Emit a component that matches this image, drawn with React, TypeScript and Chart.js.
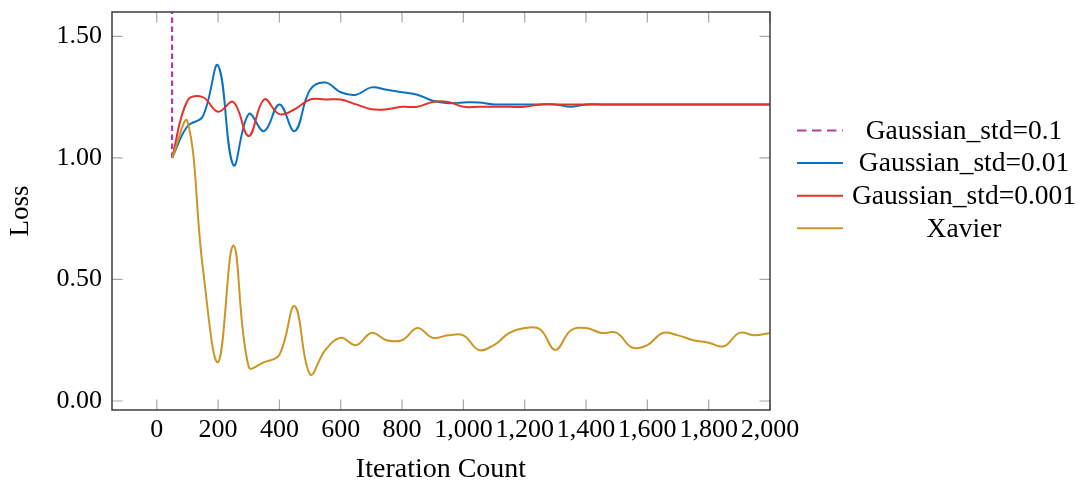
import React, { useEffect, useRef } from "react";
import { Chart, registerables } from "chart.js";

Chart.register(...registerables);

const iterations = [
  50, 100, 150, 200, 250, 300, 350, 400, 450, 500,
  550, 600, 650, 700, 750, 800, 850, 900, 950, 1000,
  1050, 1100, 1150, 1200, 1250, 1300, 1350, 1400, 1450, 1500,
  1550, 1600, 1650, 1700, 1750, 1800, 1850, 1900, 1950, 2000,
];

const std01Iter = [50, 50];
const std01Loss = [1.0, 12.5];

const std001Loss = [
  1.0, 1.13, 1.17, 1.38, 0.97, 1.18, 1.11, 1.22, 1.11, 1.28,
  1.31, 1.27, 1.26, 1.29, 1.28, 1.27, 1.26, 1.235, 1.225, 1.228,
  1.228, 1.22, 1.22, 1.22, 1.22, 1.22, 1.21, 1.22, 1.22, 1.22,
  1.22, 1.22, 1.22, 1.22, 1.22, 1.22, 1.22, 1.22, 1.22, 1.22,
];

const std0001Loss = [
  1.0, 1.235, 1.25, 1.19, 1.23, 1.09, 1.24, 1.18, 1.2, 1.24,
  1.24, 1.24, 1.22, 1.2, 1.2, 1.21, 1.21, 1.23, 1.23, 1.21,
  1.21, 1.21, 1.21, 1.21, 1.22, 1.22, 1.22, 1.22, 1.22, 1.22,
  1.22, 1.22, 1.22, 1.22, 1.22, 1.22, 1.22, 1.22, 1.22, 1.22,
];

const xavierLoss = [
  1.0, 1.15, 0.55, 0.16, 0.64, 0.14, 0.16, 0.19, 0.39, 0.11,
  0.21, 0.26, 0.23, 0.28, 0.25, 0.25, 0.3, 0.26, 0.27, 0.27,
  0.21, 0.23, 0.28, 0.3, 0.295, 0.21, 0.29, 0.3, 0.28, 0.28,
  0.22, 0.23, 0.28, 0.27, 0.25, 0.24, 0.225, 0.28, 0.27, 0.28,
];

const seriesLabels = [
  "Gaussian_std=0.1",
  "Gaussian_std=0.01",
  "Gaussian_std=0.001",
  "Xavier",
];

const xTicks = [0, 200, 400, 600, 800, 1000, 1200, 1400, 1600, 1800, 2000];
const yTicks = [0, 0.5, 1.0, 1.5];

const FONT = "'Liberation Serif', 'Times New Roman', serif";

const pts = (xs: number[], ys: number[]) => xs.map((x, i) => ({ x, y: ys[i] }));

const framePlugin = {
  id: "frame",
  afterDatasetsDraw(chart: any) {
    const { ctx, chartArea: a, scales } = chart;
    const tl = 10.5;
    ctx.save();
    ctx.strokeStyle = "#a8a8a8";
    ctx.lineWidth = 1.2;
    ctx.beginPath();
    scales.x.ticks.forEach((t: any) => {
      const px = scales.x.getPixelForValue(t.value);
      ctx.moveTo(px, a.bottom);
      ctx.lineTo(px, a.bottom - tl);
      ctx.moveTo(px, a.top);
      ctx.lineTo(px, a.top + tl);
    });
    scales.y.ticks.forEach((t: any) => {
      const py = scales.y.getPixelForValue(t.value);
      ctx.moveTo(a.left, py);
      ctx.lineTo(a.left + tl, py);
      ctx.moveTo(a.right, py);
      ctx.lineTo(a.right - tl, py);
    });
    ctx.stroke();
    ctx.strokeStyle = "#3c3c3c";
    ctx.lineWidth = 1.5;
    ctx.strokeRect(a.left, a.top, a.right - a.left, a.bottom - a.top);
    ctx.restore();
  },
  afterDraw(chart: any) {
    const { ctx } = chart;
    const x0 = 797;
    const x1 = 843;
    const tc = 964;
    const y0 = 130.5;
    const dy = 32.6;
    ctx.save();
    chart.data.datasets.forEach((ds: any, i: number) => {
      const y = y0 + i * dy;
      ctx.strokeStyle = ds.borderColor;
      ctx.lineWidth = ds.borderWidth;
      ctx.setLineDash(ds.borderDash ? [9.5, 5.5] : []);
      ctx.beginPath();
      ctx.moveTo(x0, y);
      ctx.lineTo(x1, y);
      ctx.stroke();
      ctx.setLineDash([]);
      ctx.fillStyle = "#000";
      ctx.font = `27.5px ${FONT}`;
      ctx.textAlign = "center";
      ctx.textBaseline = "middle";
      ctx.fillText(ds.label, tc, y + 1);
    });
    ctx.restore();
  },
};

export default function App() {
  const ref = useRef<HTMLCanvasElement | null>(null);

  useEffect(() => {
    if (!ref.current) return;
    const chart = new Chart(ref.current, {
      type: "line",
      data: {
        datasets: [
          {
            label: seriesLabels[0],
            data: pts(std01Iter, std01Loss),
            borderColor: "#b03cb0",
            borderDash: [5.5, 3.5],
            borderWidth: 2.2,
            pointRadius: 0,
            tension: 0,
            order: 3,
          },
          {
            label: seriesLabels[1],
            data: pts(iterations, std001Loss),
            borderColor: "#0a72c0",
            borderWidth: 2,
            pointRadius: 0,
            tension: 0.4,
            order: 2,
          },
          {
            label: seriesLabels[2],
            data: pts(iterations, std0001Loss),
            borderColor: "#e3312b",
            borderWidth: 2,
            pointRadius: 0,
            tension: 0.4,
            order: 1,
          },
          {
            label: seriesLabels[3],
            data: pts(iterations, xavierLoss),
            borderColor: "#cc9626",
            borderWidth: 2,
            pointRadius: 0,
            tension: 0.4,
            order: 0,
          },
        ],
      },
      options: {
        animation: false,
        responsive: false,
        devicePixelRatio: 1,
        layout: { padding: { left: 0, top: 12, right: 311, bottom: 0 } },
        plugins: {
          legend: { display: false },
          tooltip: { enabled: false },
        },
        scales: {
          x: {
            type: "linear",
            min: -146,
            max: 2000,
            grid: { display: false, drawTicks: false },
            border: { display: false },
            afterBuildTicks: (scale: any) => {
              scale.ticks = xTicks.map((v) => ({ value: v }));
            },
            afterFit: (scale: any) => {
              scale.height = 71;
              scale.paddingLeft = 0;
              scale.paddingRight = 0;
            },
            ticks: {
              autoSkip: false,
              maxRotation: 0,
              minRotation: 0,
              padding: 5,
              color: "#000",
              font: { family: FONT, size: 26, lineHeight: 1.2 },
              callback: (v: any) => Number(v).toLocaleString("en-US"),
            },
            title: {
              display: true,
              text: "Iteration Count",
              color: "#000",
              padding: 0,
              font: { family: FONT, size: 28, lineHeight: 0.8 },
            },
          },
          y: {
            type: "linear",
            min: -0.037,
            max: 1.6,
            grid: { display: false, drawTicks: false },
            border: { display: false },
            afterBuildTicks: (scale: any) => {
              scale.ticks = yTicks.map((v) => ({ value: v }));
            },
            afterFit: (scale: any) => {
              scale.width = 112;
              scale.paddingTop = 0;
              scale.paddingBottom = 0;
            },
            ticks: {
              autoSkip: false,
              padding: 10,
              color: "#000",
              font: { family: FONT, size: 26, lineHeight: 1.2 },
              callback: (v: any) => Number(v).toFixed(2),
            },
            title: {
              display: true,
              text: "Loss",
              color: "#000",
              padding: { top: 9, bottom: 0 },
              font: { family: FONT, size: 27, lineHeight: 0.85 },
            },
          },
        },
      },
      plugins: [framePlugin],
    });
    return () => chart.destroy();
  }, []);

  return (
    <div style={{ position: "fixed", left: 0, top: 0, width: 1081, height: 481, background: "#fff" }}>
      <canvas ref={ref} width={1081} height={481} style={{ width: 1081, height: 481, display: "block" }} />
    </div>
  );
}
